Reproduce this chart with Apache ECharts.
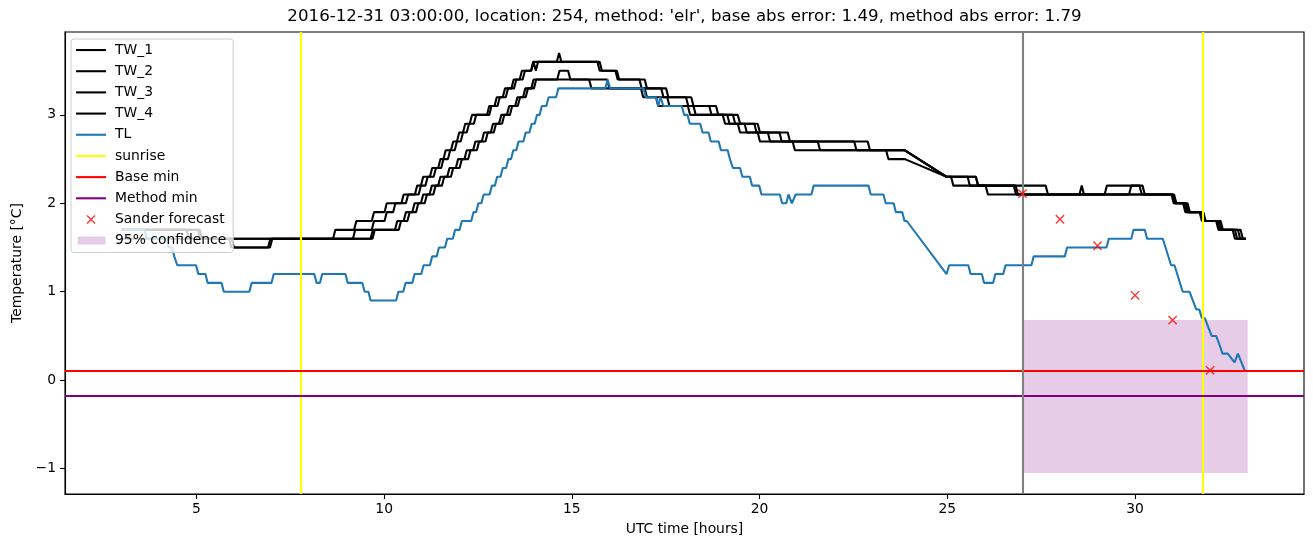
<!DOCTYPE html>
<html>
<head>
<meta charset="utf-8">
<script src="https://cdn.jsdelivr.net/npm/echarts@6/dist/echarts.min.js"></script>
<style>html,body{margin:0;padding:0;background:#fff}#c{width:1313px;height:547px}</style>
</head>
<body>
<div id="c"></div>
<script>
// ---- data (hours UTC, temperature °C); each entry: [time, value, linearFromPrevious?]
const tw1Steps = [[3.0,1.7],[4.8,1.6],[8.70,1.7],[9.26,1.8],[9.73,1.9],[10.07,2.0],[10.52,2.1],[10.88,2.2],[11.04,2.3],[11.28,2.4],[11.5,2.5],[11.64,2.6],[11.84,2.7],[12.0,2.8],[12.16,2.9],[12.34,3.0],[12.8,3.1],[13.0,3.2],[13.22,3.3],[13.45,3.4],[13.67,3.5],[13.97,3.6],[14.66,3.7],[14.72,3.6],[15.74,3.5],[16.26,3.4],[16.86,3.3],[17.44,3.2],[18.10,3.1],[18.72,3.0],[19.35,2.9],[19.92,2.8],[20.81,2.7],[22.94,2.6],[23.87,2.6],[24.98,2.3,1],[25.82,2.2],[27.68,2.1],[29.25,2.2],[30.18,2.1],[31.03,2.0],[31.34,1.9],[31.78,1.8],[32.22,1.7],[32.66,1.6],[32.95,1.6]];
const tw2Steps = [[3.0,1.7],[5.15,1.6],[9.23,1.7],[9.73,1.8],[10.07,1.9],[10.3,2.0],[10.64,2.1],[10.98,2.2],[11.16,2.3],[11.38,2.4],[11.58,2.5],[11.76,2.6],[11.94,2.7],[12.1,2.8],[12.26,2.9],[12.45,3.0],[12.86,3.1],[13.08,3.2],[13.3,3.3],[13.52,3.4],[13.75,3.5],[13.98,3.6],[14.04,3.5],[14.1,3.6],[15.8,3.5],[16.22,3.4],[17.0,3.3],[17.57,3.2],[18.24,3.1],[18.9,3.0],[19.48,2.9],[20.01,2.8],[20.59,2.7],[22.58,2.6],[23.87,2.6],[24.98,2.3,1],[25.6,2.2],[26.88,2.1],[28.58,2.2],[28.64,2.1],[29.9,2.2],[30.26,2.1],[31.07,2.0],[31.38,1.9],[31.82,1.8],[32.26,1.7],[32.72,1.6],[32.95,1.6]];
const tw3Steps = [[3.0,1.7],[5.1,1.6],[5.93,1.5],[6.97,1.6],[9.7,1.7],[10.35,1.8],[10.58,1.9],[10.81,2.0],[11.04,2.1],[11.27,2.2],[11.5,2.3],[11.74,2.4],[11.97,2.5],[12.2,2.6],[12.43,2.7],[12.66,2.8],[12.9,2.9],[13.12,3.0],[13.33,3.1],[13.55,3.2],[13.76,3.3],[13.98,3.4],[14.67,3.5],[14.96,3.4],[15.52,3.3],[17.0,3.2],[17.3,3.1],[18.15,3.0],[19.08,2.9],[19.48,2.8],[20.01,2.7],[20.94,2.6],[23.43,2.5],[23.87,2.5],[24.98,2.3,1],[25.16,2.2],[26.08,2.1],[31.05,2.0],[31.42,1.9],[31.85,1.8],[32.3,1.7],[32.8,1.6],[32.95,1.6]];
const tw4Steps = [[3.0,1.6],[6.0,1.5],[7.02,1.6],[9.75,1.7],[10.45,1.8],[10.68,1.9],[10.91,2.0],[11.14,2.1],[11.37,2.2],[11.6,2.3],[11.84,2.4],[12.07,2.5],[12.3,2.6],[12.53,2.7],[12.76,2.8],[12.98,2.9],[13.2,3.0],[13.41,3.1],[13.62,3.2],[13.83,3.3],[14.05,3.4],[16.0,3.3],[16.9,3.2],[17.6,3.1],[18.3,3.0],[19.2,2.9],[19.66,2.8],[20.28,2.7],[21.61,2.6],[23.87,2.6],[24.98,2.3,1],[25.82,2.2],[26.83,2.1],[31.1,2.0],[31.46,1.9],[31.88,1.8],[32.34,1.7],[32.87,1.6],[32.95,1.6]];
const tlSteps = [[3.0,1.7],[3.68,1.6],[4.27,1.5],[4.41,1.4],[4.49,1.3],[5.05,1.2],[5.3,1.1],[5.73,1.0],[6.47,1.1],[7.06,1.2],[8.2,1.1],[8.35,1.2],[9.03,1.1],[9.48,1.0],[9.64,0.9],[10.38,1.0],[10.57,1.1],[10.81,1.2],[11.05,1.3],[11.28,1.4],[11.46,1.5],[11.68,1.6],[11.89,1.7],[12.07,1.8],[12.38,1.9],[12.51,2.0],[12.65,2.1],[12.87,2.2],[13.01,2.3],[13.16,2.4],[13.31,2.5],[13.44,2.6],[13.58,2.7],[13.77,2.8],[13.93,2.9],[14.07,3.0],[14.2,3.1],[14.38,3.2],[14.64,3.3],[15.95,3.4],[16.02,3.3],[16.97,3.2],[17.3,3.1],[17.36,3.2],[17.44,3.1],[17.99,3.0],[18.14,2.9],[18.48,2.8],[18.7,2.7],[18.97,2.6],[19.21,2.5],[19.29,2.4],[19.54,2.3],[19.8,2.2],[20.05,2.1],[20.6,2.0],[20.77,2.1],[20.86,2.0],[20.96,2.1],[21.44,2.2],[22.96,2.1],[23.36,2.0],[23.63,1.9],[23.86,1.8],[23.92,1.8],[24.98,1.2,1],[25.05,1.3],[25.62,1.2],[25.98,1.1],[26.28,1.2],[26.55,1.3],[27.3,1.4],[28.19,1.5],[29.3,1.6],[29.96,1.7],[30.32,1.6],[30.74,1.6],[30.96,1.3,1],[31.05,1.3,1],[31.27,1.0,1],[31.45,1.0,1],[31.63,0.8,1],[31.71,0.8,1],[31.78,0.7,1],[31.86,0.7,1],[31.95,0.6,1],[32.04,0.5,1],[32.16,0.5,1],[32.25,0.4,1],[32.33,0.3,1],[32.47,0.3,1],[32.65,0.2,1],[32.74,0.3,1],[32.93,0.1,1]];
const sunriseHours = [7.79, 31.79];
const baseMinValue = [0.113];
const methodMinValue = [-0.178];
const forecastStart = [27];
const forecastHours = [27, 28, 29, 30, 31, 32];
const forecastValues = [2.11, 1.82, 1.52, 0.96, 0.68, 0.11];
const confidenceHours = [27, 33];
const confidenceRange = [-1.05, 0.68];
const xTicks = [5, 10, 15, 20, 25, 30];
const yTicks = [-1, 0, 1, 2, 3];
const xLimits = [1.5, 34.5];
const yLimits = [-1.2875, 3.9375];
const titleText = "2016-12-31 03:00:00, location: 254, method: 'elr', base abs error: 1.49, method abs error: 1.79";

// ---- build polyline vertices from step lists (plateau held until the next change)
const RAMP = 0.06;
function build(steps){
  const pts = [];
  for (let i = 0; i < steps.length; i++){
    const s = steps[i];
    if (i > 0 && !s[2]){
      const p = steps[i-1];
      if (s[0] - RAMP > p[0] + 1e-9) pts.push([+(s[0]-RAMP).toFixed(3), p[1]]);
    }
    pts.push([s[0], s[1]]);
  }
  return pts;
}

const FONT = 'DejaVu Sans';
const LW = 2.08;
const chart = echarts.init(document.getElementById('c'), null, {renderer:'canvas'});
const lineSeries = (name, steps, color) => ({
  name, type:'line', data: build(steps), symbol:'none', showSymbol:false,
  color, lineStyle:{color, width:LW}, z:2, animation:false, silent:true, clip:true
});
const minus = v => (v < 0 ? '\u2212' + Math.abs(v) : String(v));
const LINE_ICON = 'path://M0,0M30,12M0,6L30,6';
const lineLegend = (name, color) => ({name, icon:LINE_ICON,
  itemStyle:{color:'rgba(0,0,0,0)', borderColor:color, borderWidth:LW}});

chart.setOption({
  animation:false,
  backgroundColor:'#ffffff',
  title:{text:titleText, left:684.5, top:8, textAlign:'center', padding:0,
    textStyle:{fontFamily:FONT, fontSize:16.67, fontWeight:'normal', color:'#000'}},
  grid:{left:65, top:32, right:9, bottom:53, show:true, borderColor:'#000', borderWidth:1.1, backgroundColor:'transparent'},
  legend:{
    orient:'vertical', left:71, top:39, padding:[4,7,5,4], itemGap:7.1, itemWidth:30, itemHeight:12,
    backgroundColor:'rgba(255,255,255,0.8)', borderColor:'#cccccc', borderWidth:1, borderRadius:3,
    selectedMode:false,
    textStyle:{fontFamily:FONT, fontSize:13.89, color:'#000', padding:[0,0,0,4]},
    data:[lineLegend('TW_1','#000000'), lineLegend('TW_2','#000000'), lineLegend('TW_3','#000000'),
      lineLegend('TW_4','#000000'), lineLegend('TL','#1f77b4'), lineLegend('sunrise','#ffff00'),
      lineLegend('Base min','#ff0000'), lineLegend('Method min','#800080'),
      {name:'Sander forecast', icon:'path://M0,0M12,12M2,2L10,10M10,2L2,10',
        itemStyle:{color:'rgba(0,0,0,0)', borderColor:'#ff0000', borderWidth:1.4}},
      {name:'95% confidence', icon:'path://M0,0M0,12M1,2L29,2L29,10L1,10Z',
        itemStyle:{color:'rgba(128,0,128,0.2)', borderWidth:0}}]
  },
  xAxis:{type:'value', min:xLimits[0], max:xLimits[1],
    name:'UTC time [hours]', nameLocation:'middle', nameGap:28,
    nameTextStyle:{fontFamily:FONT, fontSize:13.89, color:'#000'},
    axisLine:{show:true, onZero:false, lineStyle:{color:'#000', width:1.1}},
    axisTick:{show:true, length:5, lineStyle:{color:'#000', width:1.1}, customValues:xTicks},
    axisLabel:{fontFamily:FONT, fontSize:13.89, color:'#000', margin:8, customValues:xTicks, formatter:minus},
    splitLine:{show:false}},
  yAxis:{type:'value', min:yLimits[0], max:yLimits[1],
    name:'Temperature [°C]', nameLocation:'middle', nameGap:38, nameRotate:90,
    nameTextStyle:{fontFamily:FONT, fontSize:13.89, color:'#000'},
    axisLine:{show:true, onZero:false, lineStyle:{color:'#000', width:1.1}},
    axisTick:{show:true, length:5, lineStyle:{color:'#000', width:1.1}, customValues:yTicks},
    axisLabel:{fontFamily:FONT, fontSize:13.89, color:'#000', margin:9, customValues:yTicks, formatter:minus},
    splitLine:{show:false}},
  series:[
    {name:'95% confidence', type:'line', data:[], symbol:'none', color:'rgba(128,0,128,0.2)', z:1, silent:true,
      markArea:{silent:true, itemStyle:{color:'rgba(128,0,128,0.2)', borderWidth:0},
        data:[[{xAxis:confidenceHours[0], yAxis:confidenceRange[0]},{xAxis:confidenceHours[1], yAxis:confidenceRange[1]}]]}},
    lineSeries('TW_1', tw1Steps, '#000000'),
    lineSeries('TW_2', tw2Steps, '#000000'),
    lineSeries('TW_3', tw3Steps, '#000000'),
    lineSeries('TW_4', tw4Steps, '#000000'),
    lineSeries('TL', tlSteps, '#1f77b4'),
    {name:'sunrise', type:'line', data:[], symbol:'none', color:'#ffff00', lineStyle:{color:'#ffff00', width:LW}, z:3, silent:true,
      markLine:{silent:true, symbol:'none', label:{show:false}, lineStyle:{color:'#ffff00', width:LW, type:'solid'},
        data: sunriseHours.map(h => ({xAxis:h}))}},
    {name:'Base min', type:'line', data:[], symbol:'none', color:'#ff0000', lineStyle:{color:'#ff0000', width:LW}, z:3, silent:true,
      markLine:{silent:true, symbol:'none', label:{show:false}, lineStyle:{color:'#ff0000', width:LW, type:'solid'},
        data: baseMinValue.map(v => ({yAxis:v}))}},
    {name:'Method min', type:'line', data:[], symbol:'none', color:'#800080', lineStyle:{color:'#800080', width:LW}, z:3, silent:true,
      markLine:{silent:true, symbol:'none', label:{show:false}, lineStyle:{color:'#800080', width:LW, type:'solid'},
        data: methodMinValue.map(v => ({yAxis:v}))}},
    {name:'forecast start', type:'line', data:[], symbol:'none', color:'#808080', z:3, silent:true,
      markLine:{silent:true, symbol:'none', label:{show:false}, lineStyle:{color:'#808080', width:LW, type:'solid'},
        data: forecastStart.map(h => ({xAxis:h}))}},
    {name:'Sander forecast', type:'scatter', z:5, silent:true,
      data: forecastHours.map((h,i) => [h, forecastValues[i]]),
      symbol:'path://M0,0L10,10M10,0L0,10', symbolSize:8.3,
      itemStyle:{color:'rgba(0,0,0,0)', borderColor:'#ff0000', borderWidth:1.4}}
  ]
});
</script>
</body>
</html>
